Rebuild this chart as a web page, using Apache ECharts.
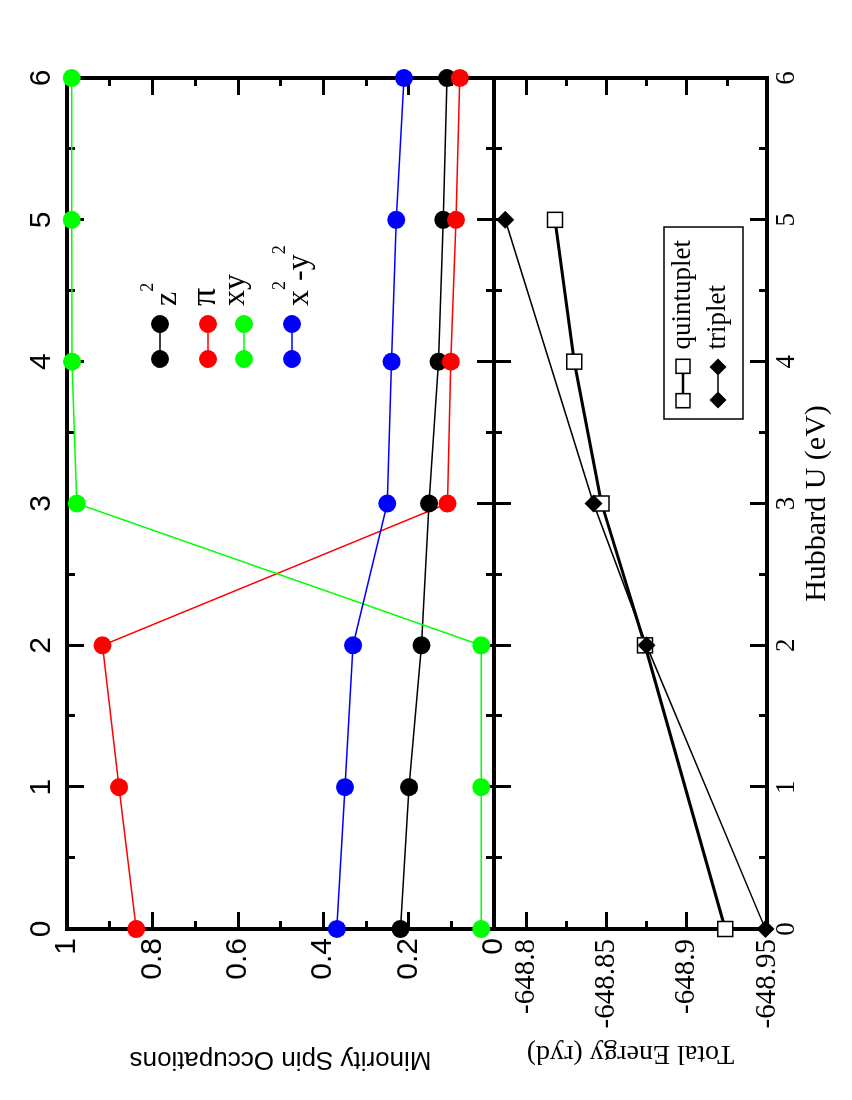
<!DOCTYPE html>
<html><head><meta charset="utf-8">
<script src="https://cdn.jsdelivr.net/npm/echarts@6/dist/echarts.min.js"></script>
<style>
html,body{margin:0;padding:0;background:#fff;width:852px;height:1100px;overflow:hidden}
#chart{position:absolute;left:0;top:0;width:1100px;height:852px;transform-origin:0 0;transform:translateY(1100px) rotate(-90deg);background:#fff}
</style></head>
<body><div id="chart"></div>
<script>
// ---- data ----
const hubbardU = [0, 1, 2, 3, 4, 5, 6];
const occZ2   = [0.219, 0.199, 0.170, 0.152, 0.130, 0.119, 0.110];
const occPi   = [0.838, 0.878, 0.917, 0.109, 0.101, 0.089, 0.080];
const occXY   = [0.030, 0.030, 0.030, 0.977, 0.988, 0.989, 0.989];
const occX2Y2 = [0.368, 0.349, 0.330, 0.250, 0.240, 0.229, 0.211];
const quintU = [0, 2, 3, 4, 5];
const quintE = [-648.924, -648.874, -648.847, -648.830, -648.818];
const tripU  = [0, 2, 3, 5];
const tripE  = [-648.949, -648.875, -648.842, -648.787];
const energyTicks = [-648.95, -648.9, -648.85, -648.8];
const energyMinorTicks = [-648.925, -648.875, -648.825];
const occNames = ['z2', 'π', 'xy', 'x2-y2'];
const occSeries = [occZ2, occPi, occXY, occX2Y2];
const occColors = ['#000000', '#ff0000', '#00ff00', '#0000ff'];

// ---- styling ----
const SANS = 'Liberation Sans', SERIF = 'Liberation Serif';
const lineS = {color: '#000', width: 4, cap: 'square'};
const tickS = {color: '#000', width: 3};
const num = v => String(+(+v).toFixed(3));

function ax(o) {
  return Object.assign({
    type: 'value',
    axisLine: {show: true, onZero: false, lineStyle: lineS},
    axisTick: {show: true, inside: true, length: 17, lineStyle: tickS},
    minorTick: {show: true, splitNumber: 2, length: 8, lineStyle: tickS},
    splitLine: {show: false}, minorSplitLine: {show: false},
    axisLabel: {show: false}
  }, o);
}
const uAx = {min: 0, max: 6, interval: 1};
const occAx = {min: 0, max: 1, interval: 0.2};
const eAx = {min: -648.95, max: -648.78};

const circIcon = 'path://M0,9A9,9,0,1,1,18,9A9,9,0,1,1,0,9Z M17.5,8.25L35.5,8.25L35.5,9.75L17.5,9.75Z M35,9A9,9,0,1,1,53,9A9,9,0,1,1,35,9Z';
const quintIcon = 'path://M0,0L15,0L15,15L0,15Z M1.5,1.5L1.5,13.5L13.5,13.5L13.5,1.5Z M15,6.25L33,6.25L33,8.75L15,8.75Z M33,0L48,0L48,15L33,15Z M34.5,1.5L34.5,13.5L46.5,13.5L46.5,1.5Z';
const tripIcon = 'path://M8.5,0L17,8.5L8.5,17L0,8.5Z M16,7.75L34,7.75L34,9.25L16,9.25Z M41.5,0L50,8.5L41.5,17L33,8.5Z';

const legRich = {
  f: {fontFamily: SERIF, fontSize: 32, verticalAlign: 'bottom', padding: [0, 0, 0, 4], color: '#000'},
  b: {fontFamily: SERIF, fontSize: 32, verticalAlign: 'bottom', color: '#000'},
  s: {fontFamily: SERIF, fontSize: 18, verticalAlign: 'top', padding: [3, 0, 27, 0], color: '#000'},
  p: {fontFamily: SERIF, fontSize: 36, padding: [0, 0, 4, 4], color: '#000'},
  q: {fontFamily: SERIF, fontSize: 32, padding: [0, 0, 16, 4], color: '#000'}
};
const legFmt = name => ({
  'z2': '{f|z}{s|2}', 'π': '{p|π}', 'xy': '{q|xy}', 'x2-y2': '{f|x}{s|2}{b|-y}{s|2}'
})[name];
const legTops = [139, 188, 220, 271];

const topLegends = occNames.map((n, i) => ({
  left: 732, top: legTops[i], orient: 'vertical', padding: 0,
  itemWidth: 53, itemHeight: 18, selectedMode: false,
  data: [{name: n, icon: circIcon, itemStyle: {borderWidth: 0}}],
  formatter: legFmt, textStyle: {rich: legRich, color: '#000'}
}));

const botLegend = {
  left: 681, top: 664, orient: 'vertical', padding: [5.5, 13, 11.5, 10.5],
  itemGap: 8, itemWidth: 50, itemHeight: 17, selectedMode: false,
  borderColor: '#000', borderWidth: 1.5, borderRadius: 0,
  data: [
    {name: 'quintuplet', icon: quintIcon, itemStyle: {color: '#000', borderWidth: 0}},
    {name: 'triplet', icon: tripIcon, itemStyle: {color: '#000', borderWidth: 0}}
  ],
  formatter: n => '{t|' + n + '}',
  textStyle: {rich: {t: {fontFamily: SERIF, fontSize: 27, lineHeight: 27, padding: [0, 0, 0, 4], color: '#000'}}}
};

const option = {
  animation: false,
  backgroundColor: '#fff',
  grid: [
    {left: 171, top: 67, width: 851, height: 427},
    {left: 171, top: 494, width: 851, height: 273}
  ],
  xAxis: [
    ax(Object.assign({gridIndex: 0, position: 'top',
      axisLabel: {show: true, fontFamily: SANS, fontSize: 30, color: '#000', margin: 10}}, uAx)),
    ax(Object.assign({gridIndex: 0, position: 'bottom'}, uAx)),
    ax(Object.assign({gridIndex: 1, position: 'top'}, uAx)),
    ax(Object.assign({gridIndex: 1, position: 'bottom',
      axisLabel: {show: true, fontFamily: SERIF, fontSize: 27, color: '#000', margin: 6},
      name: 'Hubbard U (eV)', nameLocation: 'middle', nameGap: 35,
      nameTextStyle: {fontFamily: SERIF, fontSize: 30, color: '#000'}}, uAx))
  ],
  yAxis: [
    ax(Object.assign({gridIndex: 0, position: 'left',
      axisLabel: {show: true, fontFamily: SANS, fontSize: 30, color: '#000', margin: 9, formatter: num},
      name: 'Minority Spin Occupations', nameLocation: 'middle', nameGap: 117,
      nameTextStyle: {fontFamily: SANS, fontSize: 26, color: '#000'}}, occAx)),
    ax(Object.assign({gridIndex: 0, position: 'right'}, occAx)),
    ax(Object.assign({gridIndex: 1, position: 'left',
      axisTick: {show: true, inside: true, length: 17, lineStyle: tickS, customValues: energyTicks},
      minorTick: {show: false},
      axisLabel: {show: true, customValues: energyTicks, formatter: num, fontFamily: SERIF, fontSize: 29, color: '#000', margin: 10},
      name: 'Total Energy (ryd)', nameLocation: 'middle', nameGap: 90,
      nameTextStyle: {fontFamily: SERIF, fontSize: 28, color: '#000'}}, eAx)),
    ax(Object.assign({gridIndex: 1, position: 'left', axisLine: {show: false, onZero: false},
      axisTick: {show: true, inside: true, length: 8, lineStyle: tickS, customValues: energyMinorTicks},
      minorTick: {show: false}}, eAx)),
    ax(Object.assign({gridIndex: 1, position: 'right',
      axisTick: {show: true, inside: true, length: 17, lineStyle: tickS, customValues: energyTicks},
      minorTick: {show: false}}, eAx)),
    ax(Object.assign({gridIndex: 1, position: 'right', axisLine: {show: false, onZero: false},
      axisTick: {show: true, inside: true, length: 8, lineStyle: tickS, customValues: energyMinorTicks},
      minorTick: {show: false}}, eAx))
  ],
  legend: topLegends.concat([botLegend]),
  series: occNames.map((n, i) => ({
    name: n, type: 'line', xAxisIndex: 0, yAxisIndex: 0, clip: false,
    data: hubbardU.map((u, k) => [u, occSeries[i][k]]),
    symbol: 'circle', symbolSize: 18, showSymbol: true,
    itemStyle: {color: occColors[i]},
    lineStyle: {color: occColors[i], width: 1.5}
  })).concat([
    {
      name: 'quintuplet', type: 'line', xAxisIndex: 3, yAxisIndex: 2, clip: false,
      data: quintU.map((u, k) => [u, quintE[k]]),
      symbol: 'rect', symbolSize: 15,
      itemStyle: {color: '#fff', borderColor: '#000', borderWidth: 1.5},
      lineStyle: {color: '#000', width: 3}
    },
    {
      name: 'triplet', type: 'line', xAxisIndex: 3, yAxisIndex: 2, clip: false,
      data: tripU.map((u, k) => [u, tripE[k]]),
      symbol: 'diamond', symbolSize: 18,
      itemStyle: {color: '#000'},
      lineStyle: {color: '#000', width: 1.5}
    }
  ])
};
const chart = echarts.init(document.getElementById('chart'));
chart.setOption(option);
</script>
</body></html>
